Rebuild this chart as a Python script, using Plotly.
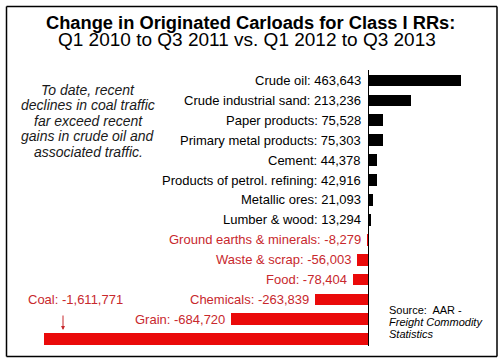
import plotly.graph_objects as go

categories = ["Crude oil", "Crude industrial sand", "Paper products", "Primary metal products",
              "Cement", "Products of petrol. refining", "Metallic ores", "Lumber & wood",
              "Ground earths & minerals", "Waste & scrap", "Food", "Chemicals", "Grain", "Coal"]
values = [463643, 213236, 75528, 75303, 44378, 42916, 21093, 13294,
          -8279, -56003, -78404, -263839, -684720, -1611771]

title_line1 = "Change in Originated Carloads for Class I RRs:"
title_line2 = "Q1 2010 to Q3 2011 vs. Q1 2012 to Q3 2013"
note_lines = ["To date, recent", "declines in coal traffic", "far exceed recent",
              "gains in crude oil and", "associated traffic."]
source_lines = ["Source:\u00a0 AAR -", "<i>Freight Commodity</i>", "<i>Statistics</i>"]

BAR_RED = "#ea0a0a"
TEXT_RED = "#c8282d"
FONT = "Liberation Sans, Arial, sans-serif"

W, H = 504, 364
T, B = 70, 18
PH = H - T - B

def py(p):  # pixel y -> paper y
    return (H - B - p) / PH

def pxx(p):
    return p / W

colors = ["#000000" if v >= 0 else BAR_RED for v in values]

fig = go.Figure(go.Bar(
    x=values, y=categories, orientation="h",
    marker=dict(color=colors, line=dict(width=0)),
    width=0.59, hoverinfo="skip",
))

ann = []
for c, v in zip(categories, values):
    if c == "Coal":
        continue
    if v >= 0:
        ann.append(dict(x=0, y=c, xref="x", yref="y", text=f"{c}: {v:,}", showarrow=False,
                        xanchor="right", yanchor="middle", xshift=-5,
                        font=dict(family=FONT, size=13, color="#000000")))
    else:
        ann.append(dict(x=v, y=c, xref="x", yref="y", text=f"{c}: {v:,}", showarrow=False,
                        xanchor="right", yanchor="middle", xshift=-4,
                        font=dict(family=FONT, size=13, color=TEXT_RED)))

coal_val = values[categories.index("Coal")]
ann.append(dict(x=pxx(26), y=py(299.5), xref="paper", yref="paper",
                text=f"Coal: {coal_val:,}", showarrow=False, xanchor="left", yanchor="middle",
                font=dict(family=FONT, size=13, color=TEXT_RED)))
ann.append(dict(x=pxx(63), y=py(330), xref="paper", yref="paper", text="",
                showarrow=True, ax=0, ay=-16, arrowhead=2, arrowsize=0.8, arrowwidth=1,
                arrowcolor=TEXT_RED))

ann.append(dict(x=pxx(250), y=py(23), xref="paper", yref="paper", text=f"<b>{title_line1}</b>",
                showarrow=False, xanchor="center", yanchor="middle",
                font=dict(family=FONT, size=18.3, color="#000000")))
ann.append(dict(x=pxx(247), y=py(40), xref="paper", yref="paper", text=title_line2,
                showarrow=False, xanchor="center", yanchor="middle",
                font=dict(family=FONT, size=19, color="#000000")))

for i, line in enumerate(note_lines):
    ann.append(dict(x=pxx(88), y=py(89.5 + i * 15.6), xref="paper", yref="paper", text=f"<i>{line}</i>",
                    showarrow=False, xanchor="center", yanchor="middle",
                    font=dict(family=FONT, size=14, color="#1a1a1a")))

for i, line in enumerate(source_lines):
    ann.append(dict(x=pxx(387), y=py(309.5 + i * 12), xref="paper", yref="paper", text=line,
                    showarrow=False, xanchor="left", yanchor="middle",
                    font=dict(family=FONT, size=11, color="#000000")))

units_per_px = 4975
zero_px = 368.3
x_range = [-zero_px * units_per_px, (W - zero_px) * units_per_px]

border = dict(color="#000000", width=1.5)
fig.update_layout(
    width=W, height=H,
    margin=dict(l=0, r=0, t=T, b=B, pad=0),
    paper_bgcolor="white", plot_bgcolor="white",
    showlegend=False,
    bargap=0,
    xaxis=dict(range=x_range, showgrid=False, showticklabels=False, ticks="",
               zeroline=True, zerolinecolor="#000000", zerolinewidth=1.2, fixedrange=True),
    yaxis=dict(range=[13.34, -0.53], showgrid=False, showticklabels=False, ticks="",
               zeroline=False, fixedrange=True),
    annotations=ann,
    shapes=[
        dict(type="line", xref="paper", yref="paper", x0=pxx(6.5), x1=pxx(497), y0=py(6.5), y1=py(6.5), line=border),
        dict(type="line", xref="paper", yref="paper", x0=pxx(6.5), x1=pxx(497), y0=py(356.5), y1=py(356.5), line=border),
        dict(type="line", xref="paper", yref="paper", x0=pxx(6.5), x1=pxx(6.5), y0=py(6.5), y1=py(356.5), line=border),
        dict(type="line", xref="paper", yref="paper", x0=pxx(497), x1=pxx(497), y0=py(6.5), y1=py(356.5), line=border),
    ],
)

fig.write_html("out.html", config={"displayModeBar": False, "staticPlot": True},
               post_script="document.body.style.margin='0';")
